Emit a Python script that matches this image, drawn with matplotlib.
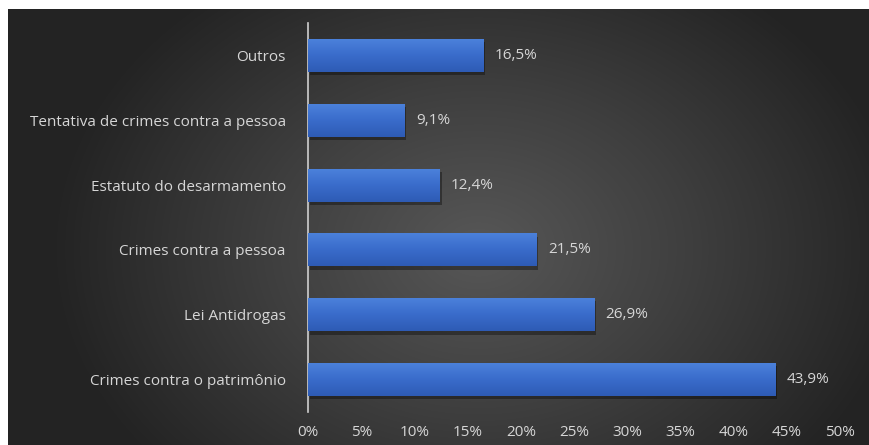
import numpy as np
import matplotlib.pyplot as plt
from matplotlib.colors import LinearSegmentedColormap
from matplotlib.patches import Rectangle

categorias = ["Crimes contra o patrimônio", "Lei Antidrogas", "Crimes contra a pessoa",
              "Estatuto do desarmamento", "Tentativa de crimes contra a pessoa", "Outros"]
percentuais = [43.9, 26.9, 21.5, 12.4, 9.1, 16.5]
ticks_x = [0, 5, 10, 15, 20, 25, 30, 35, 40, 45, 50]

plt.rcParams['font.family'] = ['Open Sans', 'DejaVu Sans']
texto = '#d6d6d6'
fs = 11

fig = plt.figure(figsize=(8.7, 4.45), dpi=100)
fig.patch.set_facecolor('white')

# fundo escuro com gradiente radial
bg = fig.add_axes([8 / 870, 0, 1 - 9 / 870, 1 - 9 / 445])
h, w = 436, 861
yy, xx = np.mgrid[0:h, 0:w]
r = np.sqrt(((xx - 470) / 430) ** 2 + ((yy - 240) / 330) ** 2)
r = np.clip(r, 0, 1)
fundo = LinearSegmentedColormap.from_list('fundo', ['#575757', '#3e3e3e', '#232323'])
bg.imshow(fundo(r), aspect='auto', extent=[0, 1, 0, 1])
bg.set_axis_off()

ax = fig.add_axes([308 / 870, 33 / 445, 532 / 870, 389 / 445])
ax.patch.set_alpha(0)
ypos = np.arange(len(categorias))
altura = 0.51

azul = LinearSegmentedColormap.from_list('azul', ['#4c82dc', '#3a6ccb', '#2e5bb5'])
grad = np.linspace(0, 1, 64).reshape(-1, 1)
for y, v in zip(ypos, percentuais):
    # sombra
    ax.add_patch(Rectangle((0.15, y - altura / 2 - 0.05), v, altura, color='black',
                           alpha=0.35, lw=0, zorder=1))
    barra = ax.barh(y, v, height=altura, color='#3a6ccb', zorder=2)[0]
    img = ax.imshow(grad, cmap=azul, aspect='auto', zorder=3, origin='upper',
                    extent=[0, v, y - altura / 2, y + altura / 2])
    img.set_clip_path(barra)
    ax.text(v + 1.05, y, f"{v:.1f}%".replace('.', ','), va='center', ha='left',
            color=texto, fontsize=fs)

ax.set_xlim(0, 50)
ax.set_ylim(-0.5, len(categorias) - 0.5)
ax.set_yticks(ypos)
ax.set_yticklabels(categorias, color=texto, fontsize=fs)
ax.set_xticks(ticks_x)
ax.set_xticklabels([f"{t}%" for t in ticks_x], color=texto, fontsize=fs)
ax.tick_params(axis='both', length=0)
ax.tick_params(axis='y', pad=16)
ax.tick_params(axis='x', pad=9)
for s in ['top', 'right', 'bottom']:
    ax.spines[s].set_visible(False)
ax.spines['left'].set_color('#cfcfcf')
ax.spines['left'].set_linewidth(1.2)

fig.savefig("out.png", dpi=100)
